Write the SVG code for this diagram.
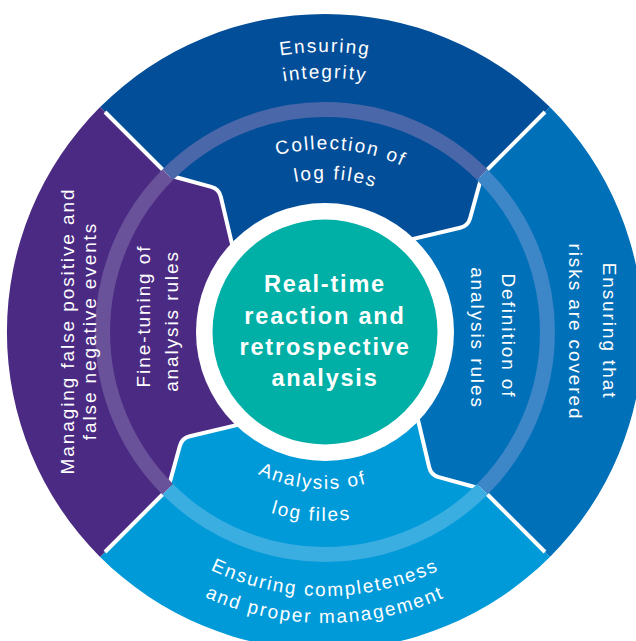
<svg xmlns="http://www.w3.org/2000/svg" xmlns:xlink="http://www.w3.org/1999/xlink" width="636" height="641" viewBox="0 0 636 641">
<defs>
<style>
.t{font-family:"Liberation Sans",Arial,sans-serif;font-size:19px;fill:#fff;letter-spacing:1.9px}
.c{font-family:"Liberation Sans",Arial,sans-serif;font-size:23.5px;font-weight:bold;fill:#fff;letter-spacing:1.8px;text-anchor:middle}
.sep{fill:none;stroke:#fff;stroke-width:4;stroke-linejoin:round}
.band{fill:none;stroke-width:15}
</style>
<path id="seg" d="M100.1,107.1 A318,318 0 0 1 549.9,107.1 L482,175 L470.1,218.3 Q468,226 460.2,227.8 L407,240.4 L325,332 L233.4,250 L220.8,196.8 Q219,189 211.3,186.9 L168,175 Z"/>
<path id="sepline" d="M545,112 L482,175 L470.1,218.3 Q468,226 460.2,227.8 L407,240.4"/>
<path id="bandarc" d="M167.7,174.7 A222.5,222.5 0 0 1 482.3,174.7"/>
<path id="pEns1" d="M45,332 A280,280 0 0 1 605,332"/>
<path id="pEns2" d="M71,332 A254,254 0 0 1 579,332"/>
<path id="pCol1" d="M142,332 A183,183 0 0 1 508,332" transform="rotate(5 325 332)"/>
<path id="pCol2" d="M172,332 A153,153 0 0 1 478,332" transform="rotate(4 325 332)"/>
<path id="pBot1" d="M61,332 A264,264 0 0 0 589,332"/>
<path id="pBot2" d="M34,332 A291,291 0 0 0 616,332"/>
<path id="pAna1" d="M168,332 A157,157 0 0 0 482,332" transform="rotate(4.8 325 332)"/>
<path id="pAna2" d="M136,332 A189,189 0 0 0 514,332" transform="rotate(4.3 325 332)"/>
</defs>

<g id="seg-top">
<use xlink:href="#seg" fill="#034e98"/>
</g>
<g id="seg-right">
<use xlink:href="#seg" fill="#0070b9" transform="rotate(90 325 332)"/>
</g>
<g id="seg-bottom">
<use xlink:href="#seg" fill="#009ad9" transform="rotate(180 325 332)"/>
</g>
<g id="seg-left">
<use xlink:href="#seg" fill="#4b2a83" transform="rotate(270 325 332)"/>
</g>

<g id="connectors">
<use xlink:href="#sepline" class="sep"/>
<use xlink:href="#sepline" class="sep" transform="rotate(90 325 332)"/>
<use xlink:href="#sepline" class="sep" transform="rotate(180 325 332)"/>
<use xlink:href="#sepline" class="sep" transform="rotate(270 325 332)"/>
</g>

<g id="band">
<use xlink:href="#bandarc" class="band" stroke="#4a68a9"/>
<use xlink:href="#bandarc" class="band" stroke="#3d86c7" transform="rotate(90 325 332)"/>
<use xlink:href="#bandarc" class="band" stroke="#3aade1" transform="rotate(180 325 332)"/>
<use xlink:href="#bandarc" class="band" stroke="#6a529b" transform="rotate(270 325 332)"/>
</g>

<g id="center">
<circle cx="325" cy="332" r="129" fill="#fff"/>
<circle cx="325" cy="332" r="112.5" fill="#00afa5"/>
<text class="c" x="325" y="292">Real-time</text>
<text class="c" x="325" y="323.5">reaction and</text>
<text class="c" x="325" y="355">retrospective</text>
<text class="c" x="325" y="386">analysis</text>
</g>

<g id="label-top-outer">
<text class="t" text-anchor="middle"><textPath xlink:href="#pEns1" startOffset="50%">Ensuring</textPath></text>
<text class="t" text-anchor="middle"><textPath xlink:href="#pEns2" startOffset="50%">integrity</textPath></text>
</g>
<g id="label-top-inner">
<text class="t" text-anchor="middle"><textPath xlink:href="#pCol1" startOffset="50%">Collection of</textPath></text>
<text class="t" text-anchor="middle"><textPath xlink:href="#pCol2" startOffset="50%">log files</textPath></text>
</g>
<g id="label-bottom-outer">
<text class="t" text-anchor="middle"><textPath xlink:href="#pBot1" startOffset="50%">Ensuring completeness</textPath></text>
<text class="t" text-anchor="middle"><textPath xlink:href="#pBot2" startOffset="50%">and proper management</textPath></text>
</g>
<g id="label-bottom-inner">
<text class="t" text-anchor="middle"><textPath xlink:href="#pAna1" startOffset="50%">Analysis of</textPath></text>
<text class="t" text-anchor="middle"><textPath xlink:href="#pAna2" startOffset="50%">log files</textPath></text>
</g>
<g id="label-left-outer">
<text class="t" text-anchor="middle" transform="translate(74 331) rotate(-90)">Managing false positive and</text>
<text class="t" text-anchor="middle" transform="translate(96 331) rotate(-90)">false negative events</text>
</g>
<g id="label-left-inner">
<text class="t" text-anchor="middle" transform="translate(150 316) rotate(-90)">Fine-tuning of</text>
<text class="t" text-anchor="middle" transform="translate(178 321) rotate(-90)">analysis rules</text>
</g>
<g id="label-right-outer">
<text class="t" text-anchor="middle" transform="translate(603 331) rotate(90)">Ensuring that</text>
<text class="t" text-anchor="middle" transform="translate(569 332) rotate(90)">risks are covered</text>
</g>
<g id="label-right-inner">
<text class="t" text-anchor="middle" transform="translate(502 336) rotate(90)">Definition of</text>
<text class="t" text-anchor="middle" transform="translate(471 338) rotate(90)">analysis rules</text>
</g>
</svg>
